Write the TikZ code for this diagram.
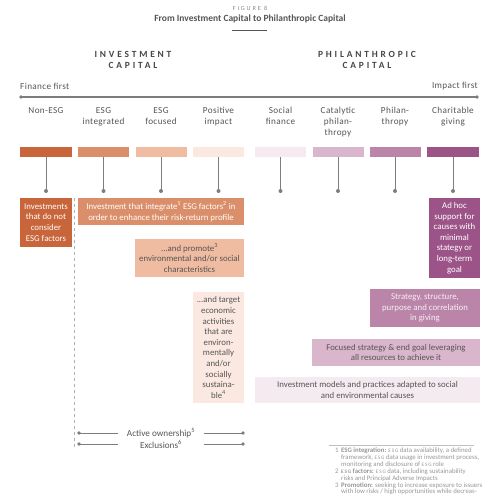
\documentclass[tikz,border=0pt]{standalone}
\usepackage{fontspec}
\setmainfont{Carlito}
\newfontfamily\spacedfont[LetterSpace=30]{Carlito}
\newfontfamily\trackfont[LetterSpace=4]{Carlito}
\usetikzlibrary{arrows.meta}
\definecolor{textgray}{RGB}{85, 85, 85}
\definecolor{headgray}{RGB}{70, 70, 70}
\definecolor{notegray}{RGB}{150, 150, 150}
\definecolor{axisgray}{RGB}{125, 125, 125}
\definecolor{dashgray}{RGB}{175, 175, 175}
\definecolor{nonesgrust}{RGB}{200, 101, 58}
\definecolor{integratedorange}{RGB}{218, 143, 106}
\definecolor{focusedpeach}{RGB}{239, 187, 161}
\definecolor{impactblush}{RGB}{251, 233, 225}
\definecolor{socialpink}{RGB}{245, 234, 240}
\definecolor{catalyticmauve}{RGB}{217, 182, 203}
\definecolor{philanthropyplum}{RGB}{186, 133, 168}
\definecolor{charitablepurple}{RGB}{156, 84, 136}
\newcommand{\esgsc}{{\fontsize{5.2}{6}\selectfont E\,S\,G}}

\begin{document}
\begin{tikzpicture}[
    x=1pt, y=-1pt,
    % Node styles
    bar/.style={
        rectangle,
        fill=#1,
        minimum width=51pt,
        minimum height=10pt,
        inner sep=0pt
    },
    colhead/.style={
        anchor=north,
        align=center,
        inner sep=0pt,
        text=textgray,
        font=\trackfont\fontsize{9.2}{11}\selectfont
    },
    box/.style={
        rectangle,
        fill=#1,
        align=center,
        inner sep=0pt,
        font=\fontsize{8.8}{10.6}\selectfont
    },
    heading/.style={
        align=center,
        inner sep=0pt,
        text=headgray,
        font=\spacedfont\bfseries\fontsize{9.4}{11.5}\selectfont
    },
    ownlabel/.style={
        minimum width=86pt,
        inner sep=0pt,
        text=textgray,
        font=\fontsize{9.2}{11}\selectfont
    },
    dot/.style={
        circle,
        fill=axisgray,
        inner sep=0pt,
        minimum size=#1
    },
    dot/.default=4pt,
    stem/.style={
        line width=1pt,
        color=axisgray
    },
    axis/.style={
        line width=1.1pt,
        color=axisgray
    }
]
\useasboundingbox (0,0) rectangle (499,500);

% ============================================
% TITLE
% ============================================
\node[font=\spacedfont\fontsize{6.2}{7}\selectfont, text=notegray!90!black] (figno) at (250,8) {FIGURE 8};
\node[font=\bfseries\fontsize{9.5}{11}\selectfont, text=textgray] (title) at (250,19) {From Investment Capital to Philanthropic Capital};
\draw[line width=0.8pt, color=textgray] (232,30) -- (267,30);

\node[heading] (investhead) at (133,60) {INVESTMENT\\CAPITAL};
\node[heading] (philanhead) at (367,60) {PHILANTHROPIC\\CAPITAL};

% ============================================
% AXIS
% ============================================
\node[anchor=west, inner sep=0pt, text=textgray, font=\trackfont\fontsize{9.2}{11}\selectfont] (financefirst) at (20,86) {Finance first};
\node[anchor=east, inner sep=0pt, text=textgray, font=\trackfont\fontsize{9.2}{11}\selectfont] (impactfirst) at (478,86) {Impact first};
\node[dot=3.6pt] (financeend) at (21,97) {};
\node[dot=3.6pt] (impactend) at (477,97) {};
\draw[axis] (financeend.center) -- (impactend.center);

% ============================================
% COLUMNS: labels, bars and stems
% ============================================
\node[colhead] (nonesglabel) at (46,107) {Non-ESG};
\node[colhead] (integratedlabel) at (103.5,107) {ESG\\integrated};
\node[colhead] (focusedlabel) at (161,107) {ESG\\focused};
\node[colhead] (impactlabel) at (218.5,107) {Positive\\impact};
\node[colhead] (sociallabel) at (280.5,107) {Social\\finance};
\node[colhead] (catalyticlabel) at (338,107) {Catalytic\\philan-\\thropy};
\node[colhead] (philanthropylabel) at (395,107) {Philan-\\thropy};
\node[colhead] (charitablelabel) at (453,107) {Charitable\\giving};

\node[bar=nonesgrust, minimum width=52pt] (nonesgbar) at (46,152) {};
\node[bar=integratedorange] (integratedbar) at (103.5,152) {};
\node[bar=focusedpeach] (focusedbar) at (161,152) {};
\node[bar=impactblush] (impactbar) at (218.5,152) {};
\node[bar=socialpink] (socialbar) at (280.5,152) {};
\node[bar=catalyticmauve] (catalyticbar) at (338,152) {};
\node[bar=philanthropyplum] (philanthropybar) at (395,152) {};
\node[bar=charitablepurple, minimum width=52pt] (charitablebar) at (453,152) {};

\node[dot] (nonesgdot) at (46,191) {};
\node[dot] (integrateddot) at (103.5,191) {};
\node[dot] (focuseddot) at (161,191) {};
\node[dot] (impactdot) at (218.5,191) {};
\node[dot] (socialdot) at (280.5,191) {};
\node[dot] (catalyticdot) at (338,191) {};
\node[dot] (philanthropydot) at (395,191) {};
\node[dot] (charitabledot) at (453,191) {};
\draw[stem] (nonesgbar.south) -- (nonesgdot.center);
\draw[stem] (integratedbar.south) -- (integrateddot.center);
\draw[stem] (focusedbar.south) -- (focuseddot.center);
\draw[stem] (impactbar.south) -- (impactdot.center);
\draw[stem] (socialbar.south) -- (socialdot.center);
\draw[stem] (catalyticbar.south) -- (catalyticdot.center);
\draw[stem] (philanthropybar.south) -- (philanthropydot.center);
\draw[stem] (charitablebar.south) -- (charitabledot.center);

% ============================================
% INVESTMENT CAPITAL BOXES
% ============================================
\node[box=nonesgrust, text=white, minimum width=52pt, minimum height=49pt] (nonesgbox) at (46,222.5)
    {Investments\\that do not\\consider\\ESG factors};
\node[box=integratedorange, text=white, minimum width=166pt, minimum height=27pt] (integratedbox) at (161,211.5)
    {Investment that integrate\textsuperscript{1} ESG factors\textsuperscript{2} in\\order to enhance their risk-return profile};
\node[box=focusedpeach, text=textgray, minimum width=109pt, minimum height=38pt] (focusedbox) at (189.5,258)
    {...and promote\textsuperscript{3}\\environmental and/or social\\characteristics};
\node[box=impactblush, text=textgray, minimum width=51pt, minimum height=111pt] (impactbox) at (218.5,347.5)
    {...and target\\economic\\activities\\that are\\environ-\\mentally\\and/or\\socially\\sustaina-\\ble\textsuperscript{4}};

% divider
\coordinate (dividertop) at (74,198);
\coordinate (dividerbottom) at (74,448);
\draw[dashgray, line width=0.8pt, dash pattern=on 3pt off 3pt] (dividertop) -- (dividerbottom);

% active ownership / exclusions
\node[ownlabel] (activeown) at (161,433) {Active ownership\textsuperscript{5}};
\node[ownlabel] (exclusions) at (161,444) {Exclusions\textsuperscript{6}};
\node[dot=3.6pt] (activeleft) at (79,433) {};
\node[dot=3.6pt] (activeright) at (243,433) {};
\node[dot=3.6pt] (exclleft) at (79,444) {};
\node[dot=3.6pt] (exclright) at (243,444) {};
\draw[stem] (activeown.west) -- (activeleft.center);
\draw[stem] (activeown.east) -- (activeright.center);
\draw[stem] (exclusions.west) -- (exclleft.center);
\draw[stem] (exclusions.east) -- (exclright.center);

% ============================================
% PHILANTHROPIC CAPITAL BOXES
% ============================================
\node[box=charitablepurple, text=white, minimum width=51pt, minimum height=80pt] (charitablebox) at (454.5,238)
    {Ad hoc\\support for\\causes with\\minimal\\stategy or\\long-term\\goal};
\node[box=philanthropyplum, text=white!88!philanthropyplum, minimum width=110pt, minimum height=38pt] (philanthropybox) at (425,308)
    {Strategy, structure,\\purpose and correlation\\in giving};
\node[box=catalyticmauve, text=textgray, minimum width=168pt, minimum height=27pt] (catalyticbox) at (396,352.5)
    {Focused strategy \& end goal leveraging\\all resources to achieve it};
\node[box=socialpink, text=textgray, minimum width=225pt, minimum height=26pt] (socialbox) at (367.5,390)
    {Investment models and practices adapted to social\\and environmental causes};

% ============================================
% NOTES
% ============================================
\draw[line width=0.8pt, color=notegray!60] (329,445) -- (474,445);
\node[anchor=north west, inner sep=0pt, text=notegray, font=\fontsize{6.8}{6.9}\selectfont] (notes) at (335,447.5) {%
    \begin{tabular}{@{}l@{\hspace{2.5pt}}l@{}}
    1 & \textbf{ESG integration:} \esgsc{} data availability, a defined\\
      & framework, \esgsc{} data usage in investment process,\\
      & monitoring and disclosure of \esgsc{} role\\
    2 & \textbf{\esgsc{} factors:} \esgsc{} data, including sustainability\\
      & risks and Principal Adverse Impacts\\
    3 & \textbf{Promotion:} seeking to increase exposure to issuers\\
      & with low risks / high opportunities while decreas-
    \end{tabular}};

\end{tikzpicture}
\end{document}
